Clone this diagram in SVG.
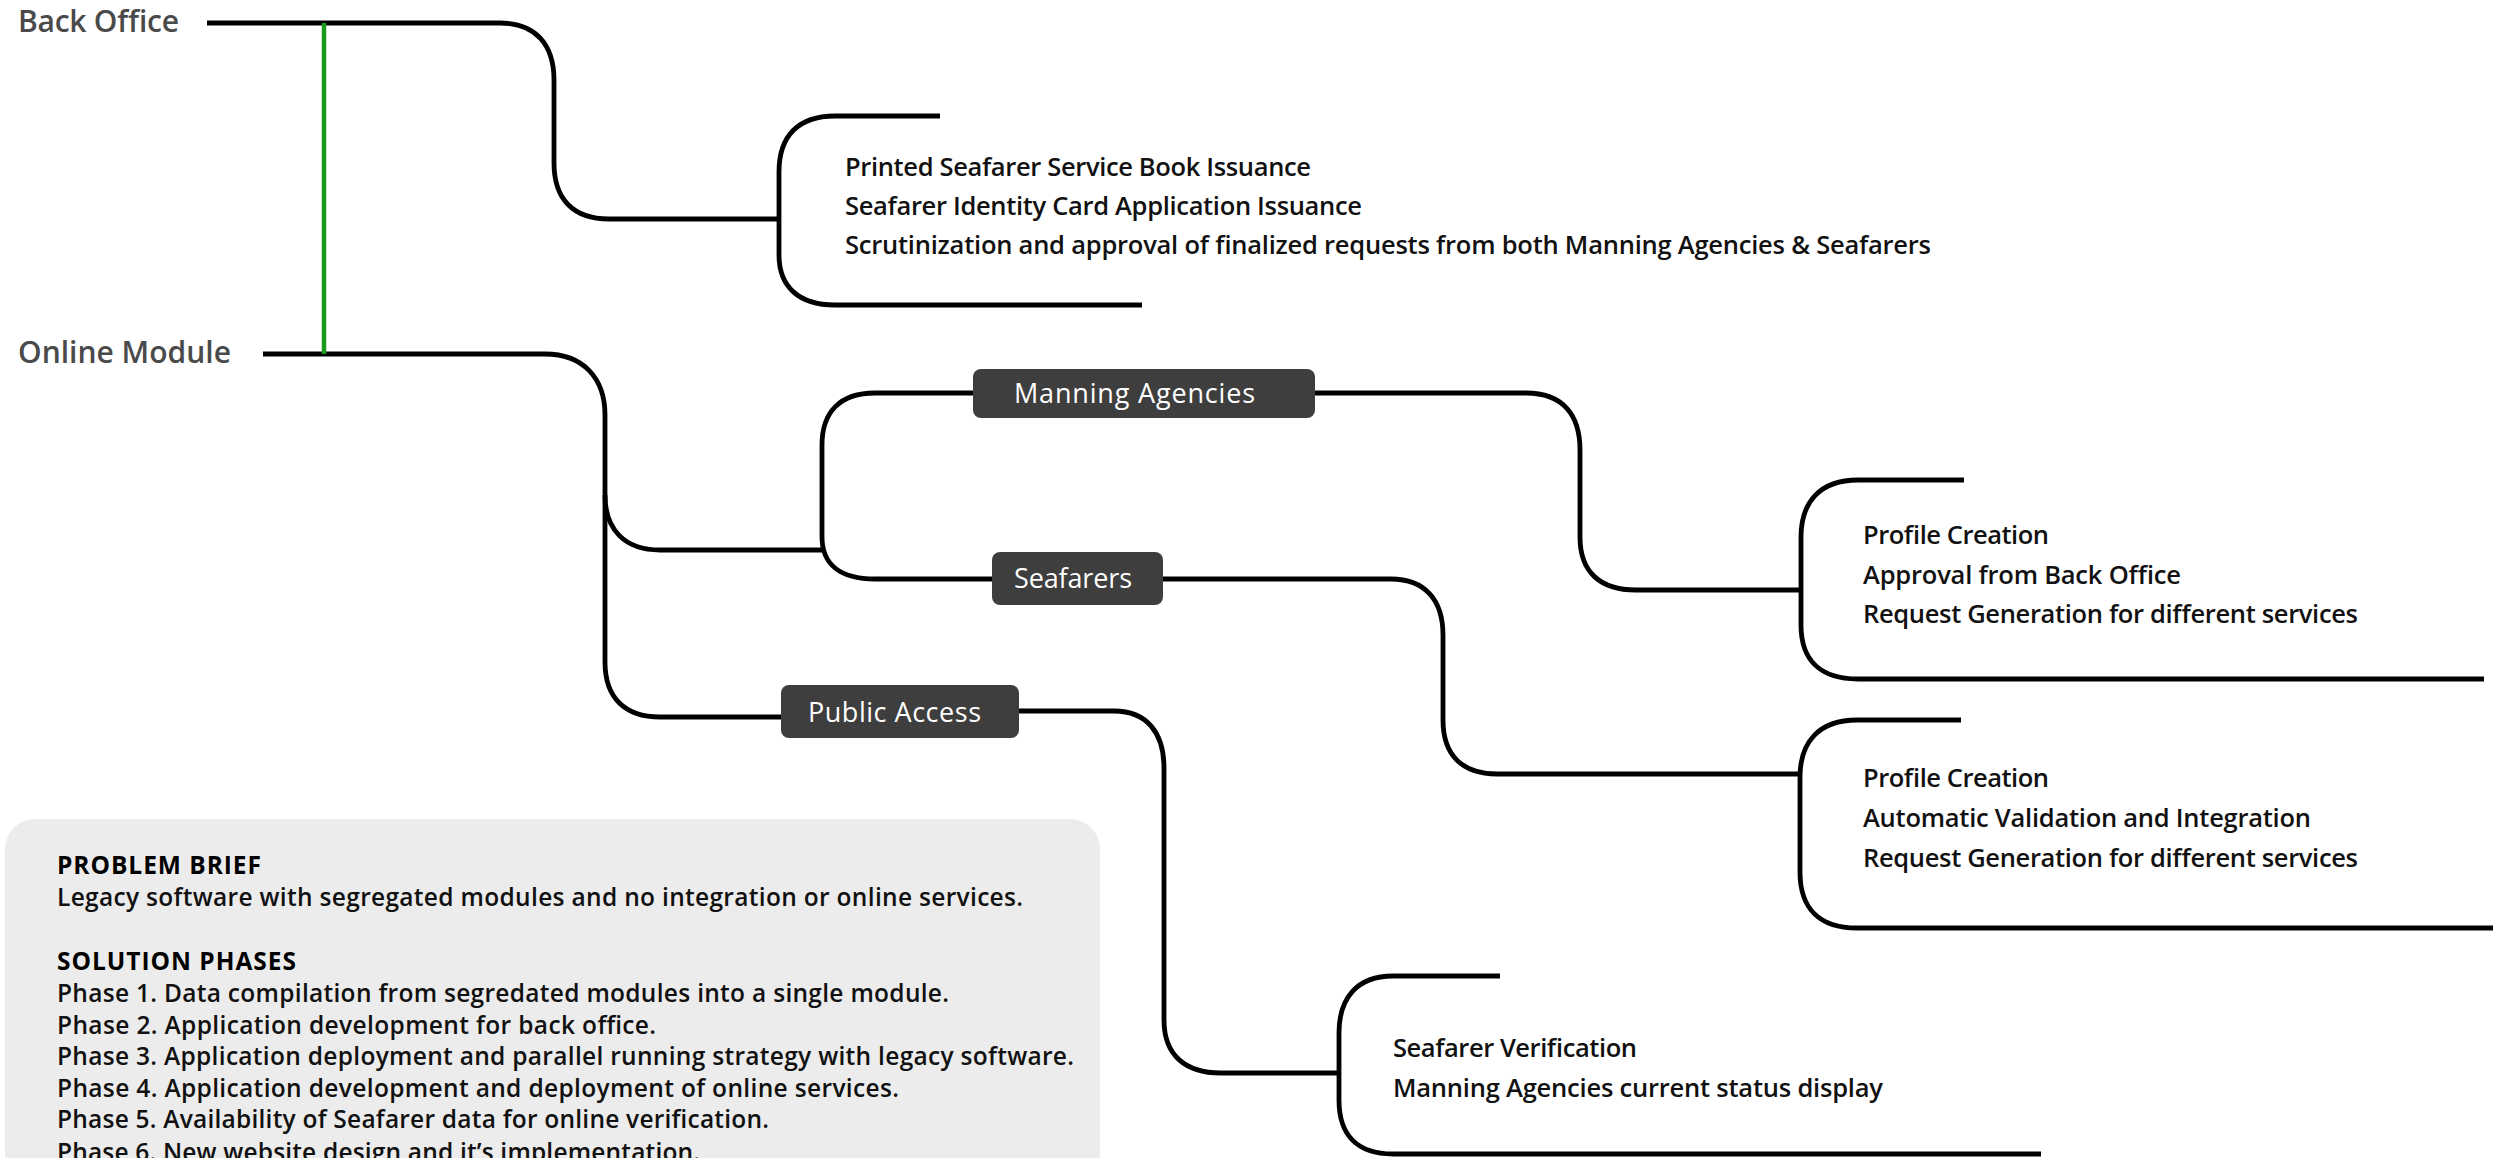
<svg xmlns="http://www.w3.org/2000/svg" width="2493" height="1158" viewBox="0 0 2493 1158">
<style>
.bg{fill:#ffffff}
.conn{fill:none;stroke:#000;stroke-width:4.8;stroke-linecap:butt;stroke-linejoin:round}
.rel{fill:none;stroke:#1a9a1a;stroke-width:4.5}
.root{font-family:"Open Sans","Noto Sans",sans-serif;font-size:30px;font-weight:600;fill:#4a4a4a}
.box{fill:#3e3e3e}
.boxt{font-family:"Open Sans","Noto Sans",sans-serif;font-size:27px;fill:#ffffff}
.item{font-family:"Open Sans","Noto Sans",sans-serif;font-size:25.5px;font-weight:600;fill:#111}
.panel{fill:#ececec}
.ph{font-family:"Open Sans","Noto Sans",sans-serif;font-size:24.5px;font-weight:600;fill:#111}
.phb{font-family:"Open Sans","Noto Sans",sans-serif;font-size:24.5px;font-weight:700;fill:#000}
</style>
<rect class="bg" x="0" y="0" width="2493" height="1158"/>

<g id="connectors">
  <path class="conn" d="M207,23 H500 C536,23 554,45 554,80 V163 C554,199 573,219 609,219 H777"/>
  <path class="conn" d="M940,116 H835 C798,116 779,136 779,172 V255 C779,286 798,305 835,305 H1142"/>
  <path class="conn" d="M263,354 H545 C583,354 605,378 605,415 V495 C605,530 625,550 660,550 H822"/>
  <path class="conn" d="M605,495 V662 C605,698 625,717 660,717 H782"/>
  <path class="conn" d="M973,393 H875 C840,393 822,412 822,445 V537 C822,564 840,579 875,579 H993"/>
  <path class="conn" d="M1315,393 H1526 C1563,393 1580,415 1580,450 V537 C1580,572 1600,590 1636,590 H1801"/>
  <path class="conn" d="M1163,579 H1391 C1425,579 1443,600 1443,635 V720 C1443,755 1462,774 1497,774 H1800"/>
  <path class="conn" d="M1019,711 H1114 C1147,711 1164,733 1164,768 V1020 C1164,1055 1185,1073 1221,1073 H1339"/>
  <path class="conn" d="M1964,480 H1858 C1820,480 1801,502 1801,537 V625 C1801,660 1820,679 1858,679 H2484"/>
  <path class="conn" d="M1961,720 H1857 C1819,720 1800,742 1800,777 V872 C1800,908 1819,928 1857,928 H2493"/>
  <path class="conn" d="M1500,976 H1393 C1357,976 1339,998 1339,1033 V1100 C1339,1135 1357,1154 1393,1154 H2041"/>
  <line class="rel" x1="324" y1="23" x2="324" y2="354"/>
</g>

<g id="node-back-office">
  <text class="root" x="18" y="32" textLength="161" lengthAdjust="spacing">Back Office</text>
</g>
<g id="node-back-office-items">
  <text class="item" x="845" y="176" textLength="466" lengthAdjust="spacing">Printed Seafarer Service Book Issuance</text>
  <text class="item" x="845" y="215" textLength="517" lengthAdjust="spacing">Seafarer Identity Card Application Issuance</text>
  <text class="item" x="845" y="254" textLength="1086" lengthAdjust="spacing">Scrutinization and approval of finalized requests from both Manning Agencies &amp; Seafarers</text>
</g>
<g id="node-online-module">
  <text class="root" x="18" y="363" textLength="213" lengthAdjust="spacing">Online Module</text>
</g>
<g id="node-manning-agencies">
  <rect class="box" x="973" y="369" width="342" height="49" rx="8"/>
  <text class="boxt" x="1014" y="403" textLength="241" lengthAdjust="spacing">Manning Agencies</text>
</g>
<g id="node-manning-items">
  <text class="item" x="1863" y="544" textLength="186" lengthAdjust="spacing">Profile Creation</text>
  <text class="item" x="1863" y="584" textLength="318" lengthAdjust="spacing">Approval from Back Office</text>
  <text class="item" x="1863" y="623" textLength="495" lengthAdjust="spacing">Request Generation for different services</text>
</g>
<g id="node-seafarers">
  <rect class="box" x="992" y="552" width="171" height="53" rx="8"/>
  <text class="boxt" x="1014" y="588" textLength="118" lengthAdjust="spacing">Seafarers</text>
</g>
<g id="node-seafarers-items">
  <text class="item" x="1863" y="787" textLength="186" lengthAdjust="spacing">Profile Creation</text>
  <text class="item" x="1863" y="827" textLength="448" lengthAdjust="spacing">Automatic Validation and Integration</text>
  <text class="item" x="1863" y="867" textLength="495" lengthAdjust="spacing">Request Generation for different services</text>
</g>
<g id="node-public-access">
  <rect class="box" x="781" y="685" width="238" height="53" rx="8"/>
  <text class="boxt" x="808" y="722" textLength="173" lengthAdjust="spacing">Public Access</text>
</g>
<g id="node-public-items">
  <text class="item" x="1393" y="1057" textLength="244" lengthAdjust="spacing">Seafarer Verification</text>
  <text class="item" x="1393" y="1097" textLength="490" lengthAdjust="spacing">Manning Agencies current status display</text>
</g>

<g id="node-problem-brief">
  <rect class="panel" x="5" y="819" width="1095" height="400" rx="30"/>
  <text class="phb" x="57" y="874" textLength="204" lengthAdjust="spacing">PROBLEM BRIEF</text>
  <text class="ph" x="57" y="906" textLength="966" lengthAdjust="spacing">Legacy software with segregated modules and no integration or online services.</text>
  <text class="phb" x="57" y="970" textLength="239" lengthAdjust="spacing">SOLUTION PHASES</text>
  <text class="ph" x="57" y="1002" textLength="892" lengthAdjust="spacing">Phase 1. Data compilation from segredated modules into a single module.</text>
  <text class="ph" x="57" y="1034" textLength="599" lengthAdjust="spacing">Phase 2. Application development for back office.</text>
  <text class="ph" x="57" y="1065" textLength="1017" lengthAdjust="spacing">Phase 3. Application deployment and parallel running strategy with legacy software.</text>
  <text class="ph" x="57" y="1097" textLength="842" lengthAdjust="spacing">Phase 4. Application development and deployment of online services.</text>
  <text class="ph" x="57" y="1128" textLength="712" lengthAdjust="spacing">Phase 5. Availability of Seafarer data for online verification.</text>
  <text class="ph" x="57" y="1161" textLength="643" lengthAdjust="spacing">Phase 6. New website design and it’s implementation.</text>
</g>
</svg>
